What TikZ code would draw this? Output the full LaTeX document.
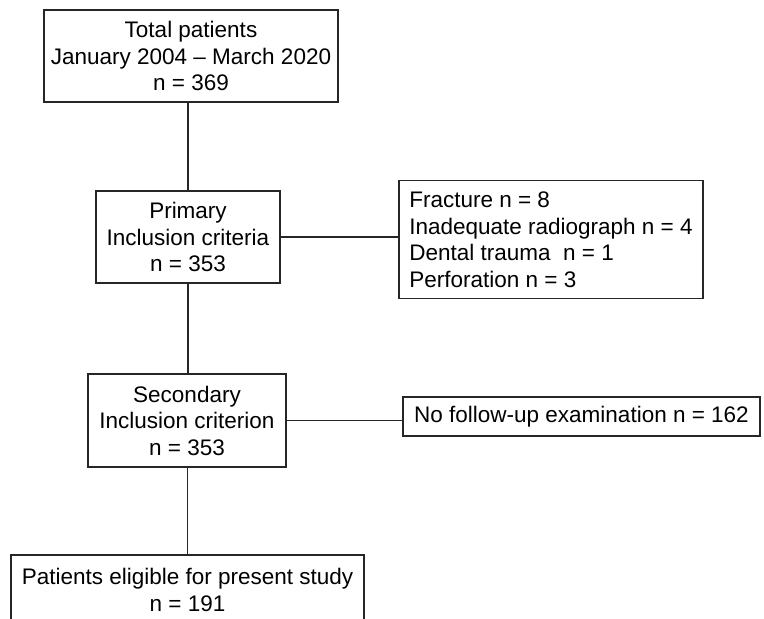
\documentclass[tikz,border=0pt]{standalone}
\usepackage{fontspec}
\setmainfont{Liberation Sans}
\usetikzlibrary{positioning}
\definecolor{linegray}{HTML}{262626}

\begin{document}
\begin{tikzpicture}[x=1pt,y=-1pt,
  box/.style={rectangle,draw=linegray,line width=1.2pt,align=center,
    inner sep=0pt,font=\fontsize{22.5}{26.5}\selectfont},
  link/.style={line width=1.2pt,draw=linegray}]
\useasboundingbox (0,0) rectangle (764,619);
% \draw[help lines] (0,0) grid[step=50] (764,619);
\node (total) [box,minimum width=294,minimum height=92] at (191,56) {Total patients\\January 2004 – March 2020\\n = 369};
\node (prim) [box,minimum width=184,minimum height=92] at (188,237) {Primary\\Inclusion criteria\\n = 353};
\node (excl1) [box,align=left,minimum width=304,minimum height=118] at (551,239.5) {Fracture n = 8\\Inadequate radiograph n = 4\\Dental trauma \ n = 1\\Perforation n = 3};
\node (sec) [box,minimum width=198,minimum height=93] at (187,420.5) {Secondary\\Inclusion criterion\\n = 353};
\node (excl2) [box,minimum width=357,minimum height=39] at (581.5,416.5) {No follow-up examination n = 162};
\node (elig) [box,minimum width=353,minimum height=70] at (187.5,590) {Patients eligible for present study\\n = 191};
%
\path[link] (prim.north) -- (prim.north |- total.south);
\path[link] (prim.east) -- (prim.east -| excl1.west);
\path[link] (prim.south) -- (prim.south |- sec.north);
\path[link] (sec.east) -- (sec.east -| excl2.west);
\path[link] (elig.north) -- (elig.north |- sec.south);
\end{tikzpicture}
\end{document}
